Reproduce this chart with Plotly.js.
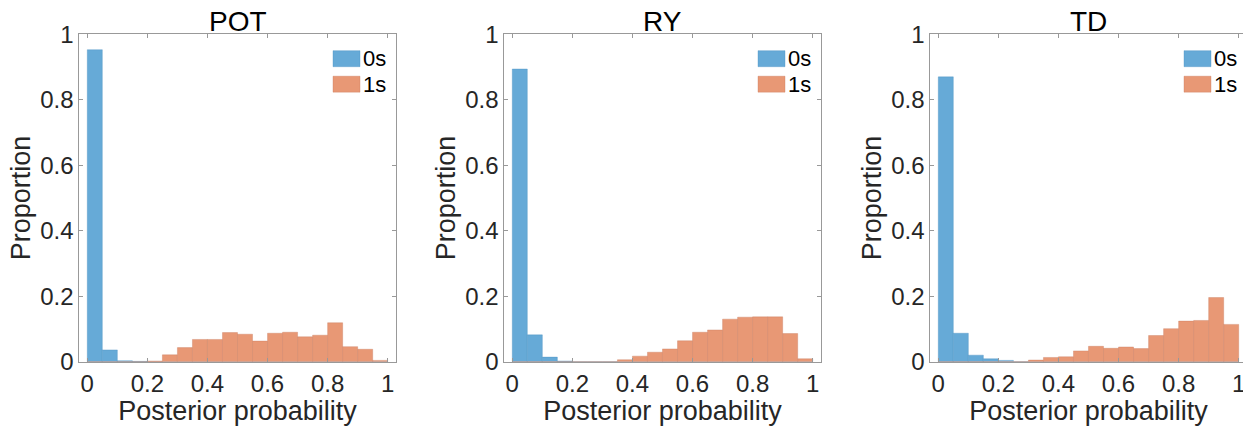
<!DOCTYPE html>
<html>
<head>
<meta charset="utf-8">
<script src="https://cdn.plot.ly/plotly-3.0.1.min.js"></script>
<style>
html,body{margin:0;padding:0;overflow:hidden;background:#fff;}
#chart{width:1250px;height:427px;}
</style>
</head>
<body>
<div id="chart"></div>
<script>
// Bin centers (bin width 0.05)
const binCenters = [0.025,0.075,0.125,0.175,0.225,0.275,0.325,0.375,0.425,0.475,
                    0.525,0.575,0.625,0.675,0.725,0.775,0.825,0.875,0.925,0.975];
const binWidth = 0.05;
const panelTitles = ["POT","RY","TD"];
const seriesNames = ["0s","1s"];
const xTicks = [0,0.2,0.4,0.6,0.8,1];
const xTickLabels = ["0","0.2","0.4","0.6","0.8","1"];
const yTicks = [0,0.2,0.4,0.6,0.8,1];
const yTickLabels = ["0","0.2","0.4","0.6","0.8","1"];

// POT
const pot0s = [0.953,0.036,0.003,0.001,0,0,0,0,0,0,0,0,0,0,0,0,0,0,0,0];
const pot1s = [0,0,0,0,0.002,0.021,0.043,0.068,0.068,0.089,0.084,0.063,0.087,0.090,0.076,0.081,0.119,0.046,0.038,0.004];
// RY
const ry0s = [0.894,0.082,0.014,0.002,0,0,0,0,0,0,0,0,0,0,0,0,0,0,0,0];
const ry1s = [0,0,0,0,0,0,0,0.006,0.017,0.029,0.039,0.064,0.090,0.097,0.130,0.136,0.137,0.137,0.086,0.009];
// TD
const td0s = [0.870,0.087,0.020,0.009,0.004,0,0,0,0,0,0,0,0,0,0,0,0,0,0,0];
const td1s = [0,0,0,0,0,0,0.005,0.013,0.015,0.033,0.047,0.041,0.045,0.040,0.080,0.101,0.124,0.126,0.196,0.114];

const panels = [[pot0s,pot1s],[ry0s,ry1s],[td0s,td1s]];
const colors = ["rgb(102,170,215)","rgb(232,152,117)"];
const edgeColors = ["rgba(70,140,190,0.6)","rgba(200,120,90,0.6)"];

const W = 1250, H = 427;
const xPix = [[79.3,395.7],[504.3,820.7],[930.3,1246.7]];
const yPix = [34.3,361.7];
const yDom = [(H-yPix[1])/H,(H-yPix[0])/H];
const FONT = "Liberation Sans, Arial, Helvetica, sans-serif";
const TXT = "#262626";

const traces = [];
const layout = {
  width: W, height: H,
  margin: {l:0,r:0,t:0,b:0},
  paper_bgcolor: "#fff", plot_bgcolor: "#fff",
  barmode: "overlay", bargap: 0,
  font: {family: FONT, color: TXT, size: 22},
  annotations: [], shapes: [],
  showlegend: false
};

panels.forEach((p, i) => {
  const suf = i === 0 ? "" : String(i+1);
  p.forEach((vals, s) => {
    traces.push({
      type: "bar", x: binCenters, y: vals, width: binWidth,
      name: seriesNames[s],
      xaxis: "x" + suf, yaxis: "y" + suf,
      marker: {color: colors[s], line: {color: edgeColors[s], width: 0.6}},
      hoverinfo: "x+y"
    });
    // legend entry (patch + label), placed in the panel's top-right corner
    const right = xPix[i][1];
    const top = 50.7 + s*25.5;
    layout.shapes.push({
      type: "rect", xref: "paper", yref: "paper",
      x0: (right-62.7)/W, x1: (right-35.7)/W,
      y0: (H-top-16)/H, y1: (H-top)/H,
      fillcolor: colors[s], line: {color: edgeColors[s], width: 0.6}
    });
    layout.annotations.push({
      text: seriesNames[s], xref: "paper", yref: "paper",
      x: (right-34.5)/W, y: (H-top-8)/H, xanchor: "left", yanchor: "middle",
      showarrow: false, font: {family: FONT, size: 22, color: "#000"}
    });
  });
  const dom = [xPix[i][0]/W, xPix[i][1]/W];
  layout["xaxis" + suf] = {
    domain: dom, anchor: "y" + suf, range: [-0.0266, 1.0266],
    tickvals: xTicks, ticktext: xTickLabels,
    ticks: "inside", ticklen: 4, tickcolor: "#999", tickwidth: 1,
    showline: true, linecolor: "#999", linewidth: 1, mirror: "ticks",
    showgrid: false, zeroline: false,
    tickfont: {family: FONT, size: 24, color: TXT},
    title: {text: "Posterior probability", font: {family: FONT, size: 27, color: TXT}, standoff: 2}
  };
  layout["yaxis" + suf] = {
    domain: yDom, anchor: "x" + suf, range: [0, 1],
    tickvals: yTicks, ticktext: yTickLabels,
    ticks: "inside", ticklen: 4, tickcolor: "#999", tickwidth: 1,
    showline: true, linecolor: "#999", linewidth: 1, mirror: "ticks",
    showgrid: false, zeroline: false,
    tickfont: {family: FONT, size: 24, color: TXT},
    title: {text: "Proportion", font: {family: FONT, size: 27, color: TXT}, standoff: 1}
  };
  layout.annotations.push({
    text: panelTitles[i], xref: "paper", yref: "paper",
    x: (dom[0]+dom[1])/2, y: (H - 21)/H, xanchor: "center", yanchor: "middle",
    showarrow: false, font: {family: FONT, size: 28, color: "#000"}
  });
});

Plotly.newPlot("chart", traces, layout, {displayModeBar: false, staticPlot: true});
</script>
</body>
</html>
